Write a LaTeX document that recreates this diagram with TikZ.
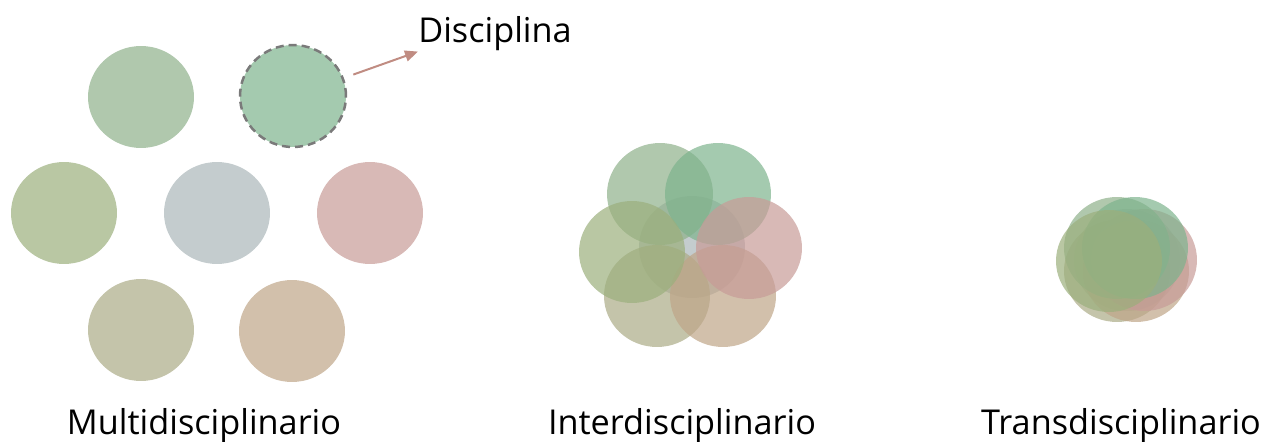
\documentclass[tikz,border=0pt]{standalone}
\usepackage{fontspec}
\setmainfont{Open Sans}
\usepackage{tikz}
\usetikzlibrary{shapes.geometric,arrows.meta}
\definecolor{discA}{RGB}{142,176,138}
\definecolor{discB}{RGB}{126,179,141}
\definecolor{discC}{RGB}{155,175,124}
\definecolor{discD}{RGB}{171,182,185}
\definecolor{discE}{RGB}{199,155,151}
\definecolor{discF}{RGB}{171,171,134}
\definecolor{discG}{RGB}{191,165,136}
\definecolor{pointerc}{RGB}{192,140,130}
\tikzset{
  % Node styles for disciplines: plain and dashed (the one that is pointed at)
  disc node/.style={ellipse,minimum width=2.12cm,minimum height=2.04cm,inner sep=0,fill opacity=0.7},
  dashed node/.style={draw=black!52,line width=0.05cm,dash pattern=on 0.16cm off 0.1cm},
  field label/.style={font=\fontsize{19.5}{23}\selectfont,anchor=base,inner sep=0},
  pointer/.style={-{Triangle[length=0.26cm,width=0.22cm]},line width=0.04cm,draw=pointerc,shorten <=0.2cm}
}
\begin{document}
\begin{tikzpicture}[x=0.02cm,y=-0.02cm]
  \useasboundingbox (0,0) rectangle (1262,442);
  % Multidisciplinario: seven disciplines apart
  \node(m1)[disc node,fill=discA] at (141,97) {};
  \node(m2)[disc node,fill=discB,dashed node] at (293,96) {};
  \node(m3)[disc node,fill=discC] at (64,213) {};
  \node(m4)[disc node,fill=discD] at (217,213) {};
  \node(m5)[disc node,fill=discE] at (370,213) {};
  \node(m6)[disc node,fill=discF] at (141,330) {};
  \node(m7)[disc node,fill=discG] at (292,331) {};
  % Interdisciplinario: the same disciplines overlapping
  \node(i4)[disc node,fill=discD] at (692,247) {};
  \node(i6)[disc node,fill=discF] at (657,296) {};
  \node(i7)[disc node,fill=discG] at (723,296) {};
  \node(i1)[disc node,fill=discA] at (660,194) {};
  \node(i2)[disc node,fill=discB] at (718,194) {};
  \node(i3)[disc node,fill=discC] at (632,252) {};
  \node(i5)[disc node,fill=discE] at (749,248) {};
  % Transdisciplinario: almost one
  \node(t4)[disc node,fill=discD] at (1127,260) {};
  \node(t6)[disc node,fill=discF] at (1117,271) {};
  \node(t7)[disc node,fill=discG] at (1136,271) {};
  \node(t5)[disc node,fill=discE] at (1144,260) {};
  \node(t1)[disc node,fill=discA] at (1117,248) {};
  \node(t2)[disc node,fill=discB] at (1135,248) {};
  \node(t3)[disc node,fill=discC] at (1109,261) {};
  % names below each group
  \node(lm)[field label] at (204,435) {Multidisciplinario};
  \node(li)[field label] at (682,435) {Interdisciplinario};
  \node(lt)[field label] at (1121,435) {Transdisciplinario};
  % pointer from one discipline to its name
  \node(ld)[field label,anchor=base west] at (418,43) {Disciplina};
  \draw[pointer] (m2) -- (ld.south west);
\end{tikzpicture}
\end{document}
